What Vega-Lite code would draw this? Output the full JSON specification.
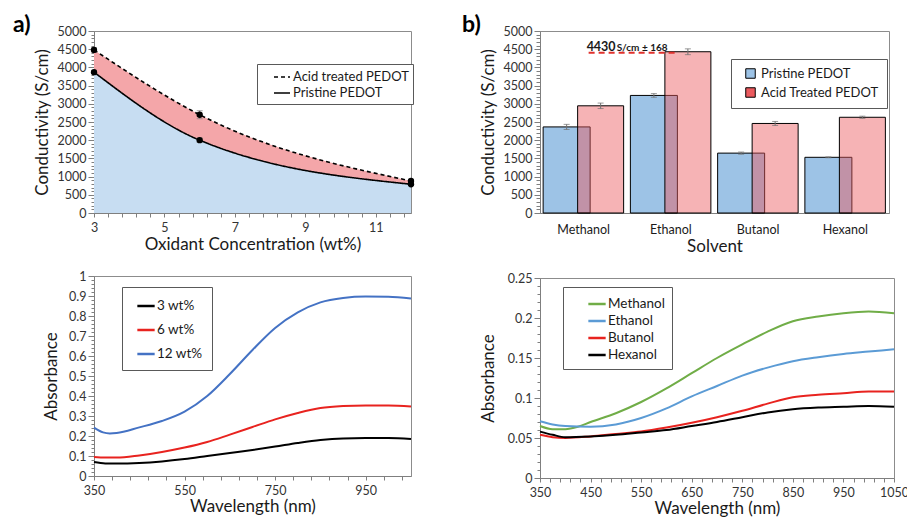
{
  "$schema": "https://vega.github.io/schema/vega-lite/v6.json",
  "background": "white",
  "padding": {"left": 12, "top": 13, "right": 0, "bottom": 0},
  "config": {
    "font": "Lato",
    "view": {"stroke": "#8c8c8c", "strokeWidth": 1},
    "axis": {"domainColor": "#7f7f7f", "tickColor": "#7f7f7f", "labelColor": "#333333", "labelFontSize": 12.5, "titleFontSize": 17, "titleFontWeight": "normal", "titleColor": "#1a1a1a", "grid": false, "labelOverlap": false, "labelFlush": false, "labelFont": "Lato", "titleFont": "Lato"},
    "legend": {"labelFont": "Lato", "labelFontSize": 13, "labelColor": "#1a1a1a", "strokeColor": "#595959", "fillColor": "white", "padding": 7},
    "title": {"font": "Lato", "fontSize": 23, "fontWeight": "bold", "color": "black"}
  },
  "resolve": {"scale": {"x": "independent", "y": "independent", "color": "independent", "fillOpacity": "independent", "strokeDash": "independent"}, "axis": {"x": "independent", "y": "independent"}, "legend": {"color": "independent", "fillOpacity": "independent", "strokeDash": "independent"}},
  "datasets": {
    "cond": [
      {"conc": 3, "series": "Acid treated PEDOT", "value": 4480, "err": 60},
      {"conc": 6, "series": "Acid treated PEDOT", "value": 2700, "err": 110},
      {"conc": 12, "series": "Acid treated PEDOT", "value": 880, "err": 40},
      {"conc": 3, "series": "Pristine PEDOT", "value": 3870, "err": 40},
      {"conc": 6, "series": "Pristine PEDOT", "value": 2000, "err": 60},
      {"conc": 12, "series": "Pristine PEDOT", "value": 790, "err": 30}
    ],
    "bars": [
      {"solvent": "Methanol", "type": "Pristine PEDOT", "value": 2365, "err": 70},
      {"solvent": "Methanol", "type": "Acid Treated PEDOT", "value": 2945, "err": 75},
      {"solvent": "Ethanol", "type": "Pristine PEDOT", "value": 3230, "err": 50},
      {"solvent": "Ethanol", "type": "Acid Treated PEDOT", "value": 4430, "err": 80},
      {"solvent": "Butanol", "type": "Pristine PEDOT", "value": 1645, "err": 30},
      {"solvent": "Butanol", "type": "Acid Treated PEDOT", "value": 2460, "err": 55},
      {"solvent": "Hexanol", "type": "Pristine PEDOT", "value": 1530, "err": 12},
      {"solvent": "Hexanol", "type": "Acid Treated PEDOT", "value": 2630, "err": 30}
    ],
    "absA": [
      {"nm": 350, "s": "3 wt%", "a": 0.07}, {"nm": 375, "s": "3 wt%", "a": 0.063}, {"nm": 400, "s": "3 wt%", "a": 0.062}, {"nm": 450, "s": "3 wt%", "a": 0.065}, {"nm": 500, "s": "3 wt%", "a": 0.073}, {"nm": 550, "s": "3 wt%", "a": 0.085}, {"nm": 600, "s": "3 wt%", "a": 0.1}, {"nm": 650, "s": "3 wt%", "a": 0.115}, {"nm": 700, "s": "3 wt%", "a": 0.13}, {"nm": 750, "s": "3 wt%", "a": 0.147}, {"nm": 800, "s": "3 wt%", "a": 0.165}, {"nm": 850, "s": "3 wt%", "a": 0.18}, {"nm": 900, "s": "3 wt%", "a": 0.188}, {"nm": 950, "s": "3 wt%", "a": 0.19}, {"nm": 1000, "s": "3 wt%", "a": 0.19}, {"nm": 1050, "s": "3 wt%", "a": 0.185},
      {"nm": 350, "s": "6 wt%", "a": 0.095}, {"nm": 375, "s": "6 wt%", "a": 0.092}, {"nm": 400, "s": "6 wt%", "a": 0.092}, {"nm": 450, "s": "6 wt%", "a": 0.103}, {"nm": 500, "s": "6 wt%", "a": 0.12}, {"nm": 550, "s": "6 wt%", "a": 0.142}, {"nm": 600, "s": "6 wt%", "a": 0.17}, {"nm": 650, "s": "6 wt%", "a": 0.207}, {"nm": 700, "s": "6 wt%", "a": 0.245}, {"nm": 750, "s": "6 wt%", "a": 0.283}, {"nm": 800, "s": "6 wt%", "a": 0.315}, {"nm": 850, "s": "6 wt%", "a": 0.34}, {"nm": 900, "s": "6 wt%", "a": 0.35}, {"nm": 950, "s": "6 wt%", "a": 0.353}, {"nm": 1000, "s": "6 wt%", "a": 0.353}, {"nm": 1050, "s": "6 wt%", "a": 0.348},
      {"nm": 350, "s": "12 wt%", "a": 0.242}, {"nm": 370, "s": "12 wt%", "a": 0.218}, {"nm": 385, "s": "12 wt%", "a": 0.213}, {"nm": 400, "s": "12 wt%", "a": 0.215}, {"nm": 450, "s": "12 wt%", "a": 0.243}, {"nm": 500, "s": "12 wt%", "a": 0.275}, {"nm": 550, "s": "12 wt%", "a": 0.322}, {"nm": 600, "s": "12 wt%", "a": 0.4}, {"nm": 650, "s": "12 wt%", "a": 0.51}, {"nm": 700, "s": "12 wt%", "a": 0.63}, {"nm": 750, "s": "12 wt%", "a": 0.74}, {"nm": 800, "s": "12 wt%", "a": 0.818}, {"nm": 850, "s": "12 wt%", "a": 0.868}, {"nm": 900, "s": "12 wt%", "a": 0.89}, {"nm": 950, "s": "12 wt%", "a": 0.897}, {"nm": 1000, "s": "12 wt%", "a": 0.896}, {"nm": 1050, "s": "12 wt%", "a": 0.888}
    ],
    "absB": [
      {"nm": 350, "s": "Methanol", "a": 0.065}, {"nm": 375, "s": "Methanol", "a": 0.061}, {"nm": 400, "s": "Methanol", "a": 0.061}, {"nm": 425, "s": "Methanol", "a": 0.064}, {"nm": 450, "s": "Methanol", "a": 0.07}, {"nm": 500, "s": "Methanol", "a": 0.081}, {"nm": 550, "s": "Methanol", "a": 0.095}, {"nm": 600, "s": "Methanol", "a": 0.112}, {"nm": 650, "s": "Methanol", "a": 0.131}, {"nm": 700, "s": "Methanol", "a": 0.15}, {"nm": 750, "s": "Methanol", "a": 0.167}, {"nm": 800, "s": "Methanol", "a": 0.183}, {"nm": 850, "s": "Methanol", "a": 0.196}, {"nm": 900, "s": "Methanol", "a": 0.202}, {"nm": 950, "s": "Methanol", "a": 0.206}, {"nm": 1000, "s": "Methanol", "a": 0.208}, {"nm": 1050, "s": "Methanol", "a": 0.206},
      {"nm": 350, "s": "Ethanol", "a": 0.071}, {"nm": 375, "s": "Ethanol", "a": 0.067}, {"nm": 400, "s": "Ethanol", "a": 0.065}, {"nm": 450, "s": "Ethanol", "a": 0.064}, {"nm": 500, "s": "Ethanol", "a": 0.067}, {"nm": 550, "s": "Ethanol", "a": 0.075}, {"nm": 600, "s": "Ethanol", "a": 0.087}, {"nm": 650, "s": "Ethanol", "a": 0.102}, {"nm": 700, "s": "Ethanol", "a": 0.115}, {"nm": 750, "s": "Ethanol", "a": 0.128}, {"nm": 800, "s": "Ethanol", "a": 0.138}, {"nm": 850, "s": "Ethanol", "a": 0.146}, {"nm": 900, "s": "Ethanol", "a": 0.151}, {"nm": 950, "s": "Ethanol", "a": 0.155}, {"nm": 1000, "s": "Ethanol", "a": 0.158}, {"nm": 1050, "s": "Ethanol", "a": 0.161},
      {"nm": 350, "s": "Butanol", "a": 0.054}, {"nm": 375, "s": "Butanol", "a": 0.051}, {"nm": 400, "s": "Butanol", "a": 0.05}, {"nm": 450, "s": "Butanol", "a": 0.052}, {"nm": 500, "s": "Butanol", "a": 0.055}, {"nm": 550, "s": "Butanol", "a": 0.058}, {"nm": 600, "s": "Butanol", "a": 0.063}, {"nm": 650, "s": "Butanol", "a": 0.069}, {"nm": 700, "s": "Butanol", "a": 0.076}, {"nm": 750, "s": "Butanol", "a": 0.084}, {"nm": 800, "s": "Butanol", "a": 0.093}, {"nm": 850, "s": "Butanol", "a": 0.101}, {"nm": 900, "s": "Butanol", "a": 0.104}, {"nm": 950, "s": "Butanol", "a": 0.106}, {"nm": 1000, "s": "Butanol", "a": 0.108}, {"nm": 1050, "s": "Butanol", "a": 0.108},
      {"nm": 350, "s": "Hexanol", "a": 0.058}, {"nm": 375, "s": "Hexanol", "a": 0.054}, {"nm": 400, "s": "Hexanol", "a": 0.051}, {"nm": 450, "s": "Hexanol", "a": 0.052}, {"nm": 500, "s": "Hexanol", "a": 0.054}, {"nm": 550, "s": "Hexanol", "a": 0.057}, {"nm": 600, "s": "Hexanol", "a": 0.06}, {"nm": 650, "s": "Hexanol", "a": 0.065}, {"nm": 700, "s": "Hexanol", "a": 0.07}, {"nm": 750, "s": "Hexanol", "a": 0.076}, {"nm": 800, "s": "Hexanol", "a": 0.082}, {"nm": 850, "s": "Hexanol", "a": 0.086}, {"nm": 900, "s": "Hexanol", "a": 0.088}, {"nm": 950, "s": "Hexanol", "a": 0.089}, {"nm": 1000, "s": "Hexanol", "a": 0.09}, {"nm": 1050, "s": "Hexanol", "a": 0.089}
    ],
    "annotA": [{"value": 4471.3, "sd": 866}],
    "annotB": [{"value": 4430, "sd": 168}]
  },
  "spacing": 45,
  "hconcat": [
    {
      "spacing": 16,
      "resolve": {"scale": {"x": "independent", "y": "independent", "color": "independent", "fillOpacity": "independent", "strokeDash": "independent"}, "axis": {"x": "independent", "y": "independent"}, "legend": {"color": "independent", "fillOpacity": "independent", "strokeDash": "independent"}},
      "vconcat": [
        {
          "width": 317, "height": 182,
          "title": {"text": "a)", "anchor": "start", "frame": "bounds", "dx": -20, "offset": -12},
          "data": {"name": "cond"},
          "encoding": {
            "x": {"field": "conc", "type": "quantitative", "title": "Oxidant Concentration (wt%)", "scale": {"domain": [3, 12], "nice": false},
              "axis": {"title": "Oxidant Concentration (wt%)", "labelOverlap": false, "labelFlush": false, "format": "~g", "values": [3, 3.4, 3.8, 4.2, 4.6, 5, 5.4, 5.8, 6.2, 6.6, 7, 7.4, 7.8, 8.2, 8.6, 9, 9.4, 9.8, 10.2, 10.6, 11, 11.4, 11.8], "labelExpr": "datum.value % 2 === 1 ? datum.label : ''", "tickSize": 4, "labelPadding": 4, "titlePadding": 3}},
            "y": {"field": "value", "type": "quantitative", "title": "Conductivity (S/cm)", "scale": {"domain": [0, 5000], "nice": false},
              "axis": {"title": "Conductivity (S/cm)", "labelOverlap": false, "format": "d", "values": [0,100,200,300,400,500,600,700,800,900,1000,1100,1200,1300,1400,1500,1600,1700,1800,1900,2000,2100,2200,2300,2400,2500,2600,2700,2800,2900,3000,3100,3200,3300,3400,3500,3600,3700,3800,3900,4000,4100,4200,4300,4400,4500,4600,4700,4800,4900,5000], "labelExpr": "datum.value % 500 === 0 ? datum.label : ''", "tickSize": {"condition": {"test": "datum.value % 500 === 0", "value": 6}, "value": 3}, "labelPadding": 2, "titlePadding": 6}}
          },
          "layer": [
            {
              "transform": [{"filter": "datum.series === 'Acid treated PEDOT'"}],
              "mark": {"type": "area", "interpolate": "monotone", "color": "#f4a6a9"}
            },
            {
              "transform": [{"filter": "datum.series === 'Pristine PEDOT'"}],
              "mark": {"type": "area", "interpolate": "monotone", "color": "#c7ddf2"}
            },
            {
              "mark": {"type": "line", "interpolate": "monotone", "color": "black", "strokeWidth": 1.6},
              "encoding": {
                "strokeDash": {"field": "series", "type": "nominal", "scale": {"domain": ["Acid treated PEDOT", "Pristine PEDOT"], "range": [[4, 3], [1, 0]]},
                  "legend": {"title": null, "orient": "none", "legendX": 163, "legendY": 33, "symbolType": "stroke", "symbolSize": 256, "symbolStrokeWidth": 1.6, "symbolStrokeColor": "black", "symbolOffset": 12, "rowPadding": 0, "padding": 4, "labelOffset": 2, "labelFontSize": 13}}
              }
            },
            {
              "mark": {"type": "errorbar", "color": "#808080", "ticks": {"size": 6}},
              "encoding": {"yError": {"field": "err"}}
            },
            {
              "mark": {"type": "point", "filled": true, "color": "black", "opacity": 1, "size": 40}
            },
            {
              "data": {"name": "annotA"},
              "mark": {"type": "rule", "color": "#e0312d", "strokeDash": [6, 4], "strokeWidth": 2},
              "encoding": {"x": {"datum": 3}, "x2": {"datum": 9}, "y": {"field": "value", "type": "quantitative"}}
            },
            {
              "data": {"name": "annotA"},
              "mark": {"type": "text", "text": "4471.3 S/cm ± 866", "fontWeight": "bold", "fontSize": 12.5, "align": "left", "baseline": "middle", "color": "#1a1a1a"},
              "encoding": {"x": {"datum": 5.9}, "y": {"datum": 4700}}
            }
          ]
        },
        {
          "width": 317, "height": 200,
          "data": {"name": "absA"},
          "mark": {"type": "line", "interpolate": "monotone", "strokeWidth": 2},
          "encoding": {
            "x": {"field": "nm", "type": "quantitative", "scale": {"domain": [350, 1050], "nice": false},
              "axis": {"title": "Wavelength (nm)", "format": "d", "labelFlush": false, "values": [350,390,430,470,510,550,590,630,670,710,750,790,830,870,910,950,990,1030], "labelExpr": "(datum.value - 350) % 200 === 0 ? datum.label : ''", "tickSize": 4, "labelPadding": 4, "titlePadding": 2}},
            "y": {"field": "a", "type": "quantitative", "scale": {"domain": [0, 1], "nice": false},
              "axis": {"title": "Absorbance", "labelFlush": false, "values": [0,0.02,0.04,0.06,0.08,0.1,0.12,0.14,0.16,0.18,0.2,0.22,0.24,0.26,0.28,0.3,0.32,0.34,0.36,0.38,0.4,0.42,0.44,0.46,0.48,0.5,0.52,0.54,0.56,0.58,0.6,0.62,0.64,0.66,0.68,0.7,0.72,0.74,0.76,0.78,0.8,0.82,0.84,0.86,0.88,0.9,0.92,0.94,0.96,0.98,1], "labelExpr": "abs(datum.value*10 - round(datum.value*10)) < 0.001 ? format(datum.value, '~g') : ''", "tickSize": {"condition": {"test": "abs(datum.value*10 - round(datum.value*10)) < 0.001", "value": 6}, "value": 3}, "labelPadding": 2, "titlePadding": 8}},
            "color": {"field": "s", "type": "nominal", "scale": {"domain": ["3 wt%", "6 wt%", "12 wt%"], "range": ["#000000", "#e8231f", "#4472c4"]},
              "legend": {"title": null, "orient": "none", "legendX": 28, "legendY": 11, "symbolType": "stroke", "symbolSize": 300, "symbolStrokeWidth": 2.5, "symbolOffset": 5, "rowPadding": 7, "padding": 9, "labelOffset": 1, "labelFontSize": 13.5}}
          }
        }
      ]
    },
    {
      "spacing": 16,
      "resolve": {"scale": {"x": "independent", "y": "independent", "color": "independent", "fillOpacity": "independent"}, "axis": {"x": "independent", "y": "independent"}, "legend": {"color": "independent", "fillOpacity": "independent"}},
      "vconcat": [
        {
          "width": 349, "height": 182,
          "title": {"text": "b)", "anchor": "start", "frame": "bounds", "dx": -17, "offset": -12},
          "data": {"name": "bars"},
          "encoding": {
            "x": {"field": "solvent", "type": "nominal", "sort": ["Methanol", "Ethanol", "Butanol", "Hexanol"], "scale": {"paddingInner": 0, "paddingOuter": 0},
              "axis": {"title": "Solvent", "labelAngle": 0, "ticks": false, "labelPadding": 10, "titlePadding": 3, "labelColor": "#1a1a1a"}},
            "y": {"field": "value", "type": "quantitative", "title": "Conductivity (S/cm)", "scale": {"domain": [0, 5000], "nice": false},
              "axis": {"title": "Conductivity (S/cm)", "labelOverlap": false, "format": "d", "values": [0,100,200,300,400,500,600,700,800,900,1000,1100,1200,1300,1400,1500,1600,1700,1800,1900,2000,2100,2200,2300,2400,2500,2600,2700,2800,2900,3000,3100,3200,3300,3400,3500,3600,3700,3800,3900,4000,4100,4200,4300,4400,4500,4600,4700,4800,4900,5000], "labelExpr": "datum.value % 500 === 0 ? datum.label : ''", "tickSize": {"condition": {"test": "datum.value % 500 === 0", "value": 6}, "value": 4}, "labelPadding": 2, "titlePadding": 6}}
          },
          "layer": [
            {
              "transform": [{"filter": "datum.type === 'Pristine PEDOT'"}],
              "mark": {"type": "bar", "width": 47, "xOffset": -17, "stroke": "black", "strokeWidth": 1},
              "encoding": {
                "color": {"field": "type", "type": "nominal", "scale": {"domain": ["Pristine PEDOT", "Acid Treated PEDOT"], "range": ["#9dc3e6", "#eb5a5e"]},
                  "legend": {"title": null, "orient": "none", "legendX": 191, "legendY": 28, "symbolType": "square", "symbolSize": 90, "symbolStrokeColor": "black", "symbolStrokeWidth": 1, "symbolOffset": 5, "rowPadding": 4, "padding": 8, "labelFontSize": 13}},
                "fillOpacity": {"field": "type", "type": "nominal", "scale": {"domain": ["Pristine PEDOT", "Acid Treated PEDOT"], "range": [1, 0.46]}, "legend": {"title": null, "orient": "none", "legendX": 191, "legendY": 28}}
              }
            },
            {
              "transform": [{"filter": "datum.type === 'Acid Treated PEDOT'"}],
              "mark": {"type": "bar", "width": 46, "xOffset": 17, "stroke": "black", "strokeWidth": 1},
              "encoding": {
                "color": {"field": "type", "type": "nominal"},
                "fillOpacity": {"field": "type", "type": "nominal"}
              }
            },
            {
              "transform": [{"filter": "datum.type === 'Pristine PEDOT'"}],
              "mark": {"type": "errorbar", "color": "#707070", "ticks": {"size": 6, "xOffset": -17}, "rule": {"xOffset": -17}},
              "encoding": {"yError": {"field": "err"}}
            },
            {
              "transform": [{"filter": "datum.type === 'Acid Treated PEDOT'"}],
              "mark": {"type": "errorbar", "color": "#707070", "ticks": {"size": 6, "xOffset": 17}, "rule": {"xOffset": 17}},
              "encoding": {"yError": {"field": "err"}}
            },
            {
              "data": {"name": "annotB"},
              "mark": {"type": "rule", "color": "#e0312d", "strokeDash": [6, 4], "strokeWidth": 2, "xOffset": 5, "x2Offset": 6},
              "encoding": {"x": {"datum": "Methanol", "type": "nominal"}, "x2": {"datum": "Ethanol"}, "y": {"datum": 4400}}
            },
            {
              "data": {"name": "annotB"},
              "mark": {"type": "text", "text": "4430", "fontWeight": "bold", "fontSize": 12.5, "align": "left", "baseline": "alphabetic", "dx": 3, "color": "#1a1a1a"},
              "encoding": {"x": {"datum": "Methanol", "type": "nominal"}, "y": {"datum": 4460}}
            },
            {
              "data": {"name": "annotB"},
              "mark": {"type": "text", "text": "S/cm ± 168", "fontWeight": "bold", "fontSize": 10, "align": "left", "baseline": "alphabetic", "dx": 33, "color": "#1a1a1a"},
              "encoding": {"x": {"datum": "Methanol", "type": "nominal"}, "y": {"datum": 4460}}
            }
          ]
        },
        {
          "width": 354, "height": 200,
          "data": {"name": "absB"},
          "mark": {"type": "line", "interpolate": "monotone", "strokeWidth": 2},
          "encoding": {
            "x": {"field": "nm", "type": "quantitative", "scale": {"domain": [350, 1050], "nice": false},
              "axis": {"title": "Wavelength (nm)", "format": "d", "labelFlush": false, "values": [350,370,390,410,430,450,470,490,510,530,550,570,590,610,630,650,670,690,710,730,750,770,790,810,830,850,870,890,910,930,950,970,990,1010,1030,1050], "labelExpr": "(datum.value - 350) % 100 === 0 ? datum.label : ''", "tickSize": 4, "labelPadding": 4, "titlePadding": 2}},
            "y": {"field": "a", "type": "quantitative", "scale": {"domain": [0, 0.25], "nice": false},
              "axis": {"title": "Absorbance", "labelFlush": false, "values": [0,0.01,0.02,0.03,0.04,0.05,0.06,0.07,0.08,0.09,0.1,0.11,0.12,0.13,0.14,0.15,0.16,0.17,0.18,0.19,0.2,0.21,0.22,0.23,0.24,0.25], "labelExpr": "abs(datum.value*20 - round(datum.value*20)) < 0.001 ? format(datum.value, '~g') : ''", "tickSize": {"condition": {"test": "abs(datum.value*20 - round(datum.value*20)) < 0.001", "value": 6}, "value": 3}, "labelPadding": 2, "titlePadding": 10}},
            "color": {"field": "s", "type": "nominal", "scale": {"domain": ["Methanol", "Ethanol", "Butanol", "Hexanol"], "range": ["#70ad47", "#5b9bd5", "#e8231f", "#000000"]},
              "legend": {"title": null, "orient": "none", "legendX": 23, "legendY": 9, "symbolType": "stroke", "symbolSize": 300, "symbolStrokeWidth": 2.5, "symbolOffset": 17, "rowPadding": 0, "padding": 7, "labelOffset": 1, "labelFontSize": 13.5}}
          }
        }
      ]
    }
  ]
}
